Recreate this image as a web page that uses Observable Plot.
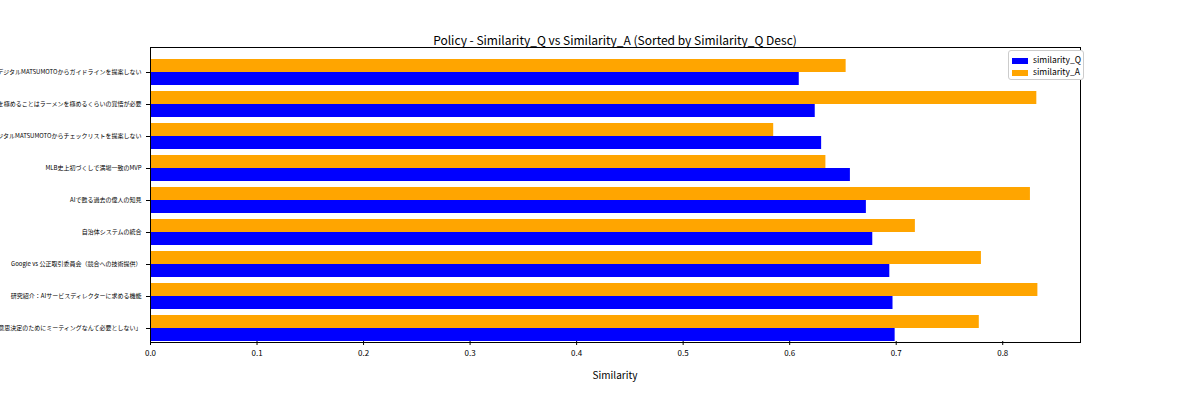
<!DOCTYPE html>
<html><head><meta charset="utf-8">
<script src="https://cdn.jsdelivr.net/npm/d3@7"></script>
<script src="https://cdn.jsdelivr.net/npm/@observablehq/plot@0.6"></script>
<style>
body{margin:0;font-family:"Noto Sans CJK JP","Noto Sans",sans-serif;background:#fff}
#wrap{position:relative;width:1200px;height:400px;overflow:hidden}
#title{position:absolute;top:31px;left:150px;width:930px;text-align:center;font-size:12px}
#xlabel{position:absolute;top:367px;left:150px;width:930px;text-align:center;font-size:10px}
#frame{position:absolute;left:150px;top:47px;width:929px;height:294px;border:1px solid #000;pointer-events:none}
#legend{position:absolute;left:1008px;top:50px;width:68px;border:1px solid #ccc;border-radius:3px;background:#fff;font-size:8.5px;padding:2px 3px;line-height:12px;white-space:nowrap}
#legend span.sw{display:inline-block;width:16px;height:6px;margin-right:5px;vertical-align:middle}
svg{position:absolute;left:0;top:0}
</style></head><body>
<div id="wrap"><div id="chart"></div>
<div id="title">Policy - Similarity_Q vs Similarity_A (Sorted by Similarity_Q Desc)</div>
<div id="xlabel">Similarity</div>
<div id="frame"></div>
<div id="legend"><div><span class="sw" style="background:#0000ff"></span>similarity_Q</div><div><span class="sw" style="background:#ffa500"></span>similarity_A</div></div>
</div>
<script>
const categories = [
"ス：デジタルMATSUMOTOからガイドラインを提案しない",
"LLMを極めることはラーメンを極めるくらいの覚悟が必要",
"：デジタルMATSUMOTOからチェックリストを提案しない",
"MLB史上初づくしで満場一致のMVP",
"AIで甦る過去の偉人の知見",
"自治体システムの統合",
"Google vs 公正取引委員会（競合への技術提供）",
"研究紹介：AIサービスディレクターに求める機能",
"は「意思決定のためにミーティングなんて必要としない」"
];
const similarityQ = [0.609,0.624,0.630,0.657,0.672,0.678,0.694,0.697,0.699];
const similarityA = [0.653,0.832,0.585,0.634,0.826,0.718,0.780,0.833,0.778];
const series = ["similarity_A","similarity_Q"];
const colors = ["#ffa500","#0000ff"];
const data = categories.flatMap((c,i)=>[
  {cat:c, s:"similarity_A", v:similarityA[i]},
  {cat:c, s:"similarity_Q", v:similarityQ[i]}
]);
const chart = Plot.plot({
  width:1200, height:400,
  marginLeft:150, marginRight:120, marginTop:58, marginBottom:58,
  style:{fontSize:"6px", fontFamily:"Noto Sans CJK JP, sans-serif"},
  x:{domain:[0,0.873], ticks:d3.range(0,0.81,0.1), tickFormat:d=>d===0?"0.0":String(+d.toFixed(1)), label:null},
  fy:{domain:categories, paddingInner:0.18, paddingOuter:0, label:null},
  y:{domain:series, axis:null, padding:0},
  color:{domain:series, range:colors},
  marks:[
    Plot.barX(data,{x:"v", y:"s", fy:"cat", fill:"s"}),
    Plot.axisX({fontSize:8, tickSize:4, label:null}),
    Plot.axisFy({anchor:"left", tickSize:4, fontSize:6, label:null})
  ]
});
document.getElementById("chart").append(chart);
</script>
</body></html>
